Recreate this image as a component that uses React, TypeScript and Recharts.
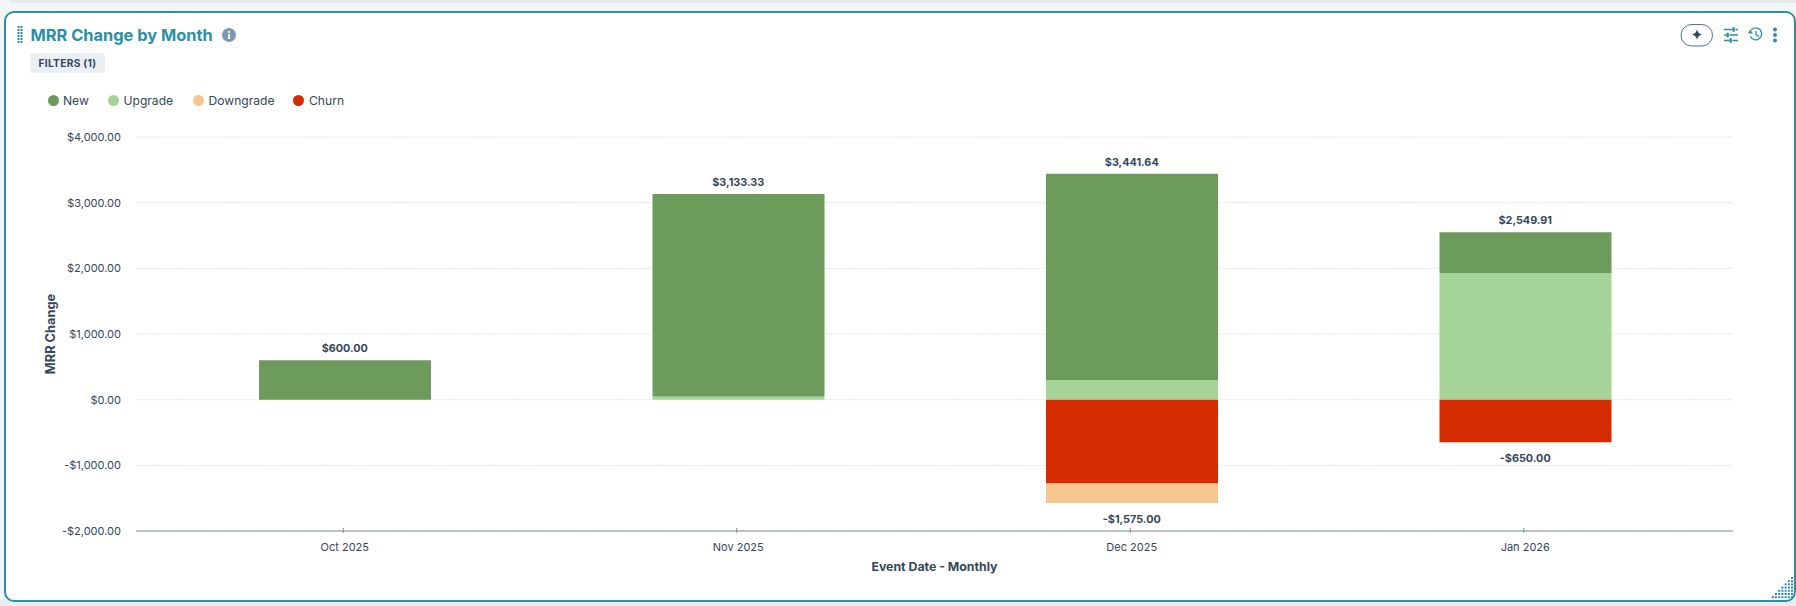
import { ComposedChart, Bar, Line, LabelList, XAxis, YAxis, CartesianGrid } from 'recharts';

const months = ['Oct 2025', 'Nov 2025', 'Dec 2025', 'Jan 2026'];
const newValues = [600, 3083.33, 3141.64, 619.91];
const upgradeValues = [null, 50, 300, 1930];
const downgradeValues = [null, null, -300, null];
const churnValues = [null, null, -1275, -650];
const positiveTotals = [600, 3133.33, 3441.64, 2549.91];
const negativeTotals = [null, null, -1575, -650];
const yTicks = [-2000, -1000, 0, 1000, 2000, 3000, 4000];

const legendItems = [
  { name: 'New', color: '#6d9b5c', dot: 53, text: 63 },
  { name: 'Upgrade', color: '#a6d397', dot: 113.5, text: 123.5 },
  { name: 'Downgrade', color: '#f5c78f', dot: 198, text: 208.5 },
  { name: 'Churn', color: '#d42b00', dot: 298.5, text: 309 },
];

const chartData = months.map((month, i) => ({
  month,
  new: newValues[i],
  upgrade: upgradeValues[i],
  downgrade: downgradeValues[i],
  churn: churnValues[i],
  positiveTotal: positiveTotals[i],
  negativeTotal: negativeTotals[i],
}));

const FONT = 'Inter, sans-serif';
const TEAL = '#2b8fa6';
const INK = '#33475b';

const money = (v: any) => {
  if (v === null || v === undefined) return '';
  const abs = Math.abs(v).toLocaleString('en-US', { minimumFractionDigits: 2, maximumFractionDigits: 2 });
  return (v < 0 ? '-$' : '$') + abs;
};

function MonthTick({ x, y, payload }: any) {
  return (
    <g>
      <line x1={x - 1.5} x2={x - 1.5} y1={y} y2={y - 5} stroke="#7c919e" />
      <text x={x} y={y + 18} textAnchor="middle" fontSize={11} fontFamily={FONT} fill={INK}>
        {payload.value}
      </text>
    </g>
  );
}

function Dots({ cols, x, y }: any) {
  const out = [];
  for (let r = 0; r < 6; r++) {
    for (let c = 0; c < cols; c++) {
      out.push(<rect key={r + '-' + c} x={x + c * 3} y={y + r * 3} width={2} height={2} fill={TEAL} />);
    }
  }
  return <>{out}</>;
}

function Corner() {
  const out = [];
  for (let r = 0; r < 7; r++) {
    for (let c = 0; c <= r; c++) {
      out.push(<rect key={r + '-' + c} x={1791 - c * 3.2} y={577 + r * 3.2} width={2} height={2} fill={TEAL} />);
    }
  }
  return <>{out}</>;
}

export default function App() {
  return (
    <div style={{ position: 'absolute', left: 0, top: 0, width: 1796, height: 606, background: '#f1f6f7', overflow: 'hidden', fontFamily: FONT }}>
      <div style={{ position: 'absolute', left: 10, top: 0, width: 1786, height: 3, background: '#e8ebed' }} />
      <div style={{ position: 'absolute', left: 0, top: 600, width: 1796, height: 6, background: '#e6edf1' }} />
      <div style={{ position: 'absolute', left: 4, top: 11, width: 1788, height: 587, border: `2px solid ${TEAL}`, borderRadius: 10, background: '#fff' }} />

      <div style={{ position: 'absolute', left: 0, top: 0 }}>
        <ComposedChart width={1796} height={606} data={chartData} stackOffset="sign" margin={{ top: 137, right: 63, bottom: 0, left: 0 }}>
          <CartesianGrid vertical={false} stroke="#e3e7ec" strokeDasharray="3 1.2" />
          <XAxis
            dataKey="month"
            height={75}
            padding={{ left: 12, right: 11 }}
            stroke="#7c919e"
            tickLine={false}
            tickSize={0}
            tick={<MonthTick />}
            label={{ value: 'Event Date - Monthly', position: 'insideBottom', offset: 35, fontSize: 12.3, fontWeight: 700, fontFamily: FONT, fill: INK }}
          />
          <YAxis
            width={136}
            domain={[-2000, 4000]}
            ticks={yTicks}
            tickFormatter={money}
            axisLine={false}
            tickLine={false}
            tickSize={0}
            tickMargin={15}
            tick={{ fontSize: 11, fontFamily: FONT, fill: INK }}
            label={{ value: 'MRR Change', angle: -90, position: 'insideLeft', offset: 50, fontSize: 12.8, fontWeight: 700, fontFamily: FONT, fill: INK, style: { textAnchor: 'middle' } }}
          />
          <Bar dataKey="upgrade" stackId="a" fill="#a6d397" barSize={172} isAnimationActive={false} />
          <Bar dataKey="new" stackId="a" fill="#6d9b5c" barSize={172} isAnimationActive={false} />
          <Bar dataKey="churn" stackId="a" fill="#d42b00" barSize={172} isAnimationActive={false} />
          <Bar dataKey="downgrade" stackId="a" fill="#f5c78f" barSize={172} isAnimationActive={false} />
          <Line dataKey="positiveTotal" stroke="none" dot={false} activeDot={false} isAnimationActive={false}>
            <LabelList dataKey="positiveTotal" position="top" offset={8} formatter={money} fontSize={10.8} fontWeight={700} fontFamily={FONT} fill={INK} />
          </Line>
          <Line dataKey="negativeTotal" stroke="none" dot={false} activeDot={false} isAnimationActive={false} connectNulls={false}>
            <LabelList dataKey="negativeTotal" position="bottom" offset={12} formatter={money} fontSize={10.8} fontWeight={700} fontFamily={FONT} fill={INK} />
          </Line>
        </ComposedChart>
      </div>

      {legendItems.map(item => (
        <div key={item.name}>
          <div style={{ position: 'absolute', left: item.dot - 5.5, top: 95, width: 11, height: 11, borderRadius: '50%', background: item.color }} />
          <div style={{ position: 'absolute', left: item.text, top: 92, fontSize: 12.1, lineHeight: '18px', color: INK }}>{item.name}</div>
        </div>
      ))}

      <div style={{ position: 'absolute', left: 30.5, top: 24, fontSize: 16.4, lineHeight: '22px', fontWeight: 700, color: TEAL, whiteSpace: 'nowrap' }}>MRR Change by Month</div>
      <div style={{ position: 'absolute', left: 30, top: 53, width: 75, height: 20, background: '#eaf0f6', borderRadius: 3, fontSize: 10.2, fontWeight: 700, lineHeight: '20px', textAlign: 'center', color: INK, letterSpacing: 0.3 }}>FILTERS (1)</div>

      <svg width={1796} height={606} style={{ position: 'absolute', left: 0, top: 0, pointerEvents: 'none' }}>
        <Dots cols={2} x={17.5} y={26} />
        <circle cx={229} cy={35} r={7} fill="#7c98b6" />
        <rect x={228} y={34} width={2} height={5} fill="#fff" />
        <rect x={228} y={31} width={2} height={2} fill="#fff" />

        <rect x={1681} y={24.5} width={31.5} height={21.5} rx={10.7} fill="#fff" stroke="#516f90" />
        <path d="M1697 29 Q1697.5 33.5 1702 34.5 Q1697.5 35.5 1697 40 Q1696.5 35.5 1692 34.5 Q1696.5 33.5 1697 29 Z" fill={INK} />

        <g stroke={TEAL} strokeWidth={1.3} fill={TEAL}>
          <path d="M1724 29.5 H1732 M1735.5 29.5 H1738 M1724 35 H1726 M1729.5 35 H1738 M1724 40.5 H1729 M1732.5 40.5 H1738" fill="none" />
          <rect x={1733} y={28} width={1.2} height={3} />
          <rect x={1727} y={33.5} width={1.2} height={3} />
          <rect x={1730} y={39} width={1.2} height={3} />
        </g>
        <g stroke={TEAL} strokeWidth={1.3} fill="none">
          <path d="M1751 30 A6 6 0 1 1 1750.3 36.5" />
          <path d="M1756 31 L1756 34.8 L1759 36.3" />
        </g>
        <path d="M1748 33.5 L1753 33.5 L1750 29.5 Z" fill={TEAL} />
        <circle cx={1775} cy={29.5} r={2} fill={TEAL} />
        <circle cx={1775} cy={35} r={2} fill={TEAL} />
        <circle cx={1775} cy={40.5} r={2} fill={TEAL} />
        <Corner />
      </svg>
    </div>
  );
}
